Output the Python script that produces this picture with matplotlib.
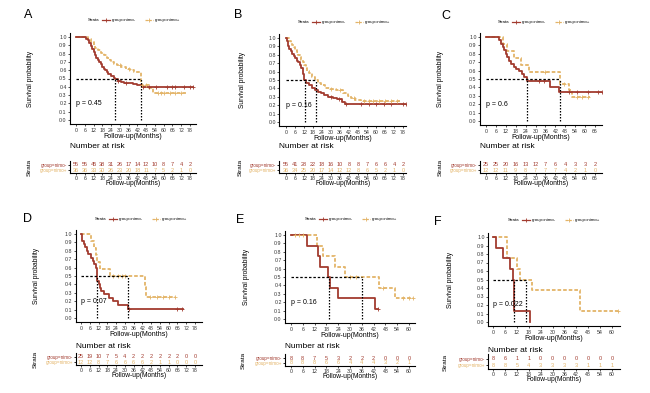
import numpy as np
import matplotlib.pyplot as plt
from matplotlib.lines import Line2D

plt.rcParams["font.family"] = ["Liberation Sans", "DejaVu Sans"]

W, H = 650, 393
RED = "#A23B2F"
ORANGE = "#E3B468"

# ---- data ----
# Kaplan-Meier steps: times of drops and survival after each drop
A_NEG_T = [0, 7, 8, 9, 10, 11, 12, 13, 14, 15, 16, 17, 18, 19, 20, 21, 22, 23,
           24, 26, 27, 29, 31, 33, 36, 39, 42, 45]
A_NEG_S = [1.0, 0.98, 0.96, 0.93, 0.89, 0.85, 0.82, 0.78, 0.75, 0.72, 0.70, 0.67,
           0.64, 0.62, 0.60, 0.58, 0.56, 0.55, 0.53, 0.51, 0.49, 0.47, 0.46, 0.45,
           0.44, 0.43, 0.42, 0.40]
A_POS_T = [0, 8, 10, 12, 13, 15, 17, 19, 21, 23, 24, 26, 28, 31, 34, 37, 40, 44.5,
           50, 53]
A_POS_S = [1.0, 0.97, 0.94, 0.90, 0.87, 0.84, 0.81, 0.78, 0.75, 0.72, 0.70, 0.68,
           0.66, 0.64, 0.62, 0.60, 0.58, 0.42, 0.39, 0.33]
A_END = [80, 75]
A_NEG_CENS = [29, 34, 46, 50, 55, 62, 66, 68, 74, 78, 80]
A_POS_CENS = [30, 36, 45, 48, 56, 58, 60, 64, 68, 72]
A_RISK_NEG = [55, 55, 45, 38, 31, 26, 17, 14, 12, 10, 8, 7, 4, 2]
A_RISK_POS = [36, 36, 33, 30, 26, 23, 20, 18, 11, 7, 5, 2, 1, 0]
A_P = "p = 0.45"

B_NEG_T = [0, 0.5, 1, 2, 3, 4, 5, 6, 7, 8, 9, 10, 11, 12, 13, 15, 17, 19, 21, 23,
           25, 28, 31, 34, 37, 39]
B_NEG_S = [1.0, 0.96, 0.91, 0.87, 0.84, 0.81, 0.78, 0.76, 0.73, 0.71, 0.68, 0.64,
           0.57, 0.50, 0.47, 0.44, 0.41, 0.38, 0.36, 0.34, 0.32, 0.30, 0.29, 0.27,
           0.24, 0.22]
B_POS_T = [0, 2, 3, 4, 5, 6, 7, 8, 9, 10, 11, 12, 13, 14, 15, 17, 19, 21, 23, 26,
           29, 33, 38, 41, 43, 46, 50]
B_POS_S = [1.0, 0.97, 0.94, 0.92, 0.89, 0.86, 0.83, 0.80, 0.77, 0.74, 0.71, 0.68,
           0.64, 0.61, 0.58, 0.54, 0.50, 0.47, 0.44, 0.41, 0.39, 0.38, 0.35, 0.31,
           0.28, 0.26, 0.25]
B_END = [80, 76]
B_NEG_CENS = [30, 35, 40, 50, 55, 60, 65, 70, 78, 80]
B_POS_CENS = [30, 36, 45, 52, 55, 58, 62, 66, 70, 74]
B_RISK_NEG = [55, 41, 28, 22, 18, 16, 10, 8, 8, 7, 6, 6, 4, 2]
B_RISK_POS = [36, 34, 25, 20, 17, 14, 12, 12, 8, 6, 5, 2, 1, 0]
B_P = "p = 0.16"

C_NEG_T = [0, 8, 9, 10, 11, 12, 13, 14, 15, 17, 18, 20, 22, 23, 25, 39, 44]
C_NEG_S = [1.0, 0.96, 0.92, 0.88, 0.84, 0.80, 0.76, 0.72, 0.68, 0.64, 0.62, 0.60,
           0.56, 0.52, 0.48, 0.40, 0.35]
C_POS_T = [0, 10, 13, 17, 21, 26, 44.8, 50, 52]
C_POS_S = [1.0, 0.92, 0.83, 0.75, 0.67, 0.58, 0.44, 0.37, 0.29]
C_END = [70, 63]
C_NEG_CENS = [32, 35, 50, 55, 62, 68, 70]
C_POS_CENS = [36, 47, 55, 58, 62]
C_RISK_NEG = [25, 25, 20, 16, 13, 12, 7, 6, 4, 3, 3, 2]
C_RISK_POS = [12, 12, 11, 9, 8, 7, 7, 7, 4, 2, 1, 0]
C_P = "p = 0.6"

D_NEG_T = [0, 0.5, 1, 2, 3, 4, 5, 7, 8, 9, 10, 10.7, 11, 12, 13, 14, 16, 19, 22,
           25, 32]
D_NEG_S = [1.0, 0.96, 0.92, 0.88, 0.84, 0.80, 0.76, 0.72, 0.68, 0.64, 0.60, 0.48,
           0.44, 0.40, 0.36, 0.32, 0.28, 0.24, 0.20, 0.16, 0.11]
D_POS_T = [0, 7, 9, 10, 11, 13, 20, 44, 44.5]
D_POS_S = [1.0, 0.92, 0.83, 0.75, 0.67, 0.58, 0.50, 0.37, 0.25]
D_END = [70, 64]
D_NEG_CENS = [33, 66, 69]
D_POS_CENS = [22, 25, 28, 30, 47, 52, 56, 60, 64]
D_RISK_NEG = [25, 19, 10, 7, 5, 4, 2, 2, 2, 2, 2, 2, 0, 0]
D_RISK_POS = [12, 12, 8, 7, 6, 6, 6, 6, 2, 1, 1, 0, 0, 0]
D_P = "p = 0.07"

E_NEG_T = [0, 8, 13.7, 14.7, 18.8, 19.8, 24, 42.6]
E_NEG_S = [1.0, 0.875, 0.75, 0.625, 0.5, 0.375, 0.25, 0.125]
E_POS_T = [0, 13, 16.4, 22.3, 27.4, 44.5, 53]
E_POS_S = [1.0, 0.875, 0.75, 0.625, 0.5, 0.375, 0.25]
E_END = [44, 62]
E_NEG_CENS = [44]
E_POS_CENS = [2, 4, 6, 30, 33, 47, 57, 60, 62]
E_RISK_NEG = [8, 8, 7, 5, 3, 2, 2, 2, 0, 0, 0]
E_RISK_POS = [8, 8, 8, 6, 6, 4, 4, 4, 3, 2, 1]
E_P = "p = 0.16"

F_NEG_T = [0, 1.5, 5, 8.6, 10, 10.8, 18.7]
F_NEG_S = [1.0, 0.875, 0.75, 0.625, 0.5, 0.125, 0.0]
F_POS_T = [0, 7, 12, 13.6, 19.6, 44]
F_POS_S = [1.0, 0.75, 0.625, 0.5, 0.375, 0.125]
F_END = [18.7, 63]
F_NEG_CENS = []
F_POS_CENS = [63]
F_RISK_NEG = [8, 6, 1, 1, 0, 0, 0, 0, 0, 0, 0]
F_RISK_POS = [8, 8, 5, 4, 3, 3, 3, 3, 1, 1, 1]
F_P = "p = 0.022"

GROUPS = ["group=nimo-", "group=nimo+"]
LETTERS = ["A", "B", "C", "D", "E", "F"]

panels = [
    (A_NEG_T, A_NEG_S, A_POS_T, A_POS_S, A_END, A_NEG_CENS, A_POS_CENS,
     A_RISK_NEG, A_RISK_POS, A_P),
    (B_NEG_T, B_NEG_S, B_POS_T, B_POS_S, B_END, B_NEG_CENS, B_POS_CENS,
     B_RISK_NEG, B_RISK_POS, B_P),
    (C_NEG_T, C_NEG_S, C_POS_T, C_POS_S, C_END, C_NEG_CENS, C_POS_CENS,
     C_RISK_NEG, C_RISK_POS, C_P),
    (D_NEG_T, D_NEG_S, D_POS_T, D_POS_S, D_END, D_NEG_CENS, D_POS_CENS,
     D_RISK_NEG, D_RISK_POS, D_P),
    (E_NEG_T, E_NEG_S, E_POS_T, E_POS_S, E_END, E_NEG_CENS, E_POS_CENS,
     E_RISK_NEG, E_RISK_POS, E_P),
    (F_NEG_T, F_NEG_S, F_POS_T, F_POS_S, F_END, F_NEG_CENS, F_POS_CENS,
     F_RISK_NEG, F_RISK_POS, F_P),
]

# ---- layout in pixels ----
layout = [
    dict(x0=76, x1=190, tmax=78, y1=37, y0=120, xlim=(-4, 82), nar=147,
         r1=165, r2=170, letter=(28, 15), leg=(88, 20), lab=30, strata=29),
    dict(x0=286, x1=403, tmax=78, y1=38, y0=122, xlim=(-4.5, 80), nar=147,
         r1=165, r2=170, letter=(238, 15), leg=(298, 22), lab=242, strata=240),
    dict(x0=486, x1=595, tmax=66, y1=37, y0=121, xlim=(-3.6, 70), nar=147,
         r1=165, r2=170, letter=(446, 16), leg=(498, 22), lab=441, strata=440),
    dict(x0=81, x1=195, tmax=78, y1=234, y0=318, xlim=(-3.5, 83), nar=347,
         r1=357, r2=362, letter=(28, 219), leg=(95, 219), lab=36, strata=35),
    dict(x0=291, x1=409, tmax=60, y1=235, y0=319, xlim=(-3, 63), nar=347,
         r1=358, r2=363, letter=(240, 220), leg=(305, 219), lab=246, strata=243),
    dict(x0=493, x1=612, tmax=60, y1=237, y0=322, xlim=(-2.5, 64), nar=350,
         r1=359, r2=365, letter=(438, 222), leg=(508, 220), lab=450, strata=445),
]


def box(l, t, r, b):
    return [l / W, 1 - b / H, (r - l) / W, (b - t) / H]


def median(t, s, end):
    for i, v in enumerate(s):
        if abs(v - 0.5) < 1e-9:
            nxt = t[i + 1] if i + 1 < len(t) else end
            return (t[i] + nxt) / 2
        if v < 0.5:
            return t[i]
    return None


def surv_at(t, s, c):
    i = np.searchsorted(t, c, side="right") - 1
    return s[i]


fig = plt.figure(figsize=(6.5, 3.93), dpi=100)
ov = fig.add_axes([0, 0, 1, 1])
ov.set_xlim(0, W)
ov.set_ylim(H, 0)
ov.axis("off")

for k, (pan, lay) in enumerate(zip(panels, layout)):
    nt, ns, pt, ps, ends, nc, pc, rn, rp, ptxt = pan
    ppm = (lay["x1"] - lay["x0"]) / lay["tmax"]
    ppu = lay["y0"] - lay["y1"]
    xl = lay["xlim"]
    left = lay["x0"] + xl[0] * ppm
    right = lay["x0"] + xl[1] * ppm
    ylim = (-0.05, 1.05)
    top = lay["y0"] - ylim[1] * ppu
    bot = lay["y0"] - ylim[0] * ppu
    ticks = np.arange(0, lay["tmax"] + 1, 6)

    ax = fig.add_axes(box(left, top, right, bot))
    ax.patch.set_alpha(0)
    for grp, (t, s, end, cens, col, ls) in enumerate(
            [(nt, ns, ends[0], nc, RED, "-"),
             (pt, ps, ends[1], pc, ORANGE, (0, (2, 1.1)))]):
        ax.step(list(t) + [end], list(s) + [s[-1]], where="post", color=col,
                lw=1.3, ls=ls, zorder=3 - grp)
        if cens:
            ax.plot(cens, [surv_at(t, s, c) for c in cens], "+", color=col,
                    ms=2.5, mew=0.6, zorder=3)
    meds = [median(nt, ns, ends[0]), median(pt, ps, ends[1])]
    ax.plot([0, max(meds)], [0.5, 0.5], color="black", lw=0.9,
            ls=(0, (2, 1.5)), zorder=4)
    for m in meds:
        ax.plot([m, m], [0, 0.5], color="black", lw=0.9, ls=(0, (1.2, 1.2)),
                zorder=4)
    ax.text(0, 0.2, ptxt, fontsize=5, ha="left", va="center", zorder=5)
    ax.set_xlim(*xl)
    ax.set_ylim(*ylim)
    ax.set_xticks(ticks)
    ax.set_yticks(np.arange(0, 1.01, 0.1))
    ax.set_yticklabels([f"{v:.1f}" for v in np.arange(0, 1.01, 0.1)])
    for sp in ["top", "right"]:
        ax.spines[sp].set_visible(False)
    for sp in ["left", "bottom"]:
        ax.spines[sp].set_linewidth(0.8)
    ax.tick_params(labelsize=3.8, length=1.5, width=0.6, pad=1, colors="#333333")

    # risk table
    rtop = lay["r1"] - 0.8 * (lay["r2"] - lay["r1"])
    rb = lay["r2"] + 0.6 * (lay["r2"] - lay["r1"])
    rax = fig.add_axes(box(left, rtop, right, rb))
    rax.patch.set_alpha(0)
    rax.set_xlim(*xl)
    rax.set_ylim(0.4, 2.8)
    for x, v in zip(ticks, rn):
        rax.text(x, 2, str(v), color=RED, fontsize=4, ha="center", va="center")
    for x, v in zip(ticks, rp):
        rax.text(x, 1, str(v), color=ORANGE, fontsize=4, ha="center",
                 va="center")
    rax.set_xticks(ticks)
    rax.set_yticks([2, 1])
    rax.set_yticklabels(GROUPS)
    for lbl, col in zip(rax.get_yticklabels(), [RED, ORANGE]):
        lbl.set_color(col)
    for sp in ["top", "right"]:
        rax.spines[sp].set_visible(False)
    for sp in ["left", "bottom"]:
        rax.spines[sp].set_linewidth(0.8)
    rax.tick_params(axis="x", labelsize=3.8, length=1.5, width=0.6, pad=1,
                    colors="#333333")
    rax.tick_params(axis="y", labelsize=3.3, length=1.5, width=0.6, pad=0.5)

    cx = (left + right) / 2
    ov.text(cx, bot + 12, "Follow-up(Months)", fontsize=5, ha="center",
            va="center")
    ov.text(cx, rb + 10.5, "Follow-up(Months)", fontsize=4.8, ha="center",
            va="center")
    ov.text(left, lay["nar"], "Number at risk", fontsize=6, ha="left",
            va="center")
    ov.text(lay["strata"], (lay["r1"] + lay["r2"]) / 2, "Strata", fontsize=4.6,
            rotation=90, ha="center", va="center")
    ov.text(lay["lab"], (lay["y1"] + lay["y0"]) / 2, "Survival probability",
            fontsize=4.8, rotation=90, ha="center", va="center")
    ov.text(*lay["letter"], LETTERS[k], fontsize=9, ha="center", va="center")

    # legend
    lx, ly = lay["leg"]
    ov.text(lx, ly, "Strata", fontsize=3.2, ha="left", va="center")
    for j, (col, ls) in enumerate([(RED, "-"), (ORANGE, (0, (2, 1)))]):
        sx = lx + 14 + j * 43
        ov.add_line(Line2D([sx, sx + 8], [ly, ly], color=col, lw=0.9, ls=ls))
        ov.plot(sx + 4, ly, "+", color=col, ms=2.5, mew=0.6)
        ov.text(sx + 10, ly, GROUPS[j], fontsize=3.2, ha="left", va="center")

fig.savefig("out.png", dpi=100)
